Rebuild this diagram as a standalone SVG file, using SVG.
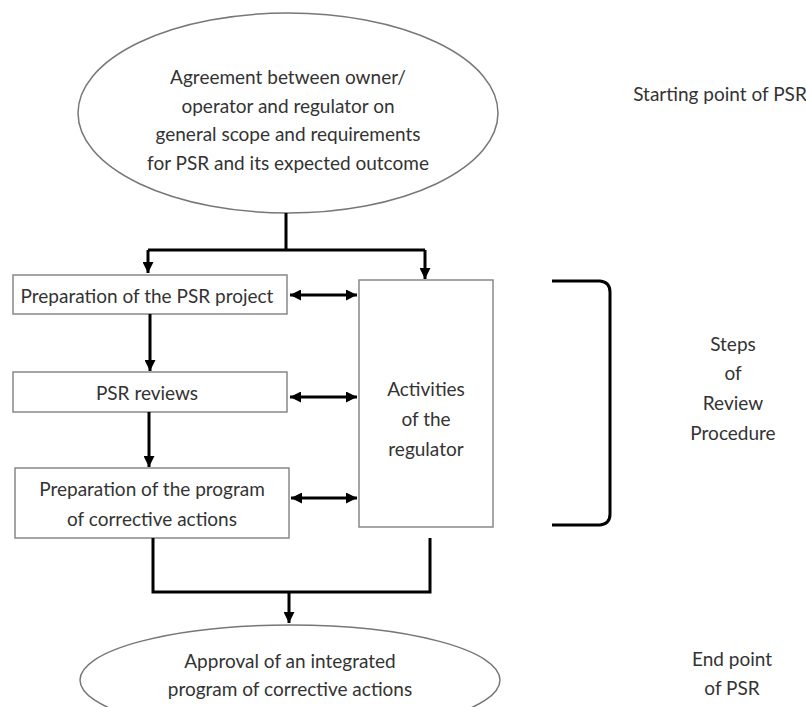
<svg xmlns="http://www.w3.org/2000/svg" width="806" height="707" viewBox="0 0 806 707">
<style>
text{font-family:Lato,"Liberation Sans",sans-serif;font-size:19px;fill:#333;text-anchor:middle;dominant-baseline:central}
.box{fill:#fff;stroke:#888;stroke-width:1.5}
.ell{fill:#fff;stroke:#777;stroke-width:1.5}
.c{fill:none;stroke:#000;stroke-width:3}
</style>
<defs>
<marker id="ah" viewBox="0 0 10 10" refX="10" refY="5" markerWidth="11" markerHeight="11" markerUnits="userSpaceOnUse" orient="auto-start-reverse">
<path d="M0,0 L10,5 L0,10 z" fill="#000"/>
</marker>
</defs>
<rect width="806" height="707" fill="#fff"/>
<g id="start">
<ellipse class="ell" cx="288" cy="113" rx="210" ry="100"/>
<text x="288" y="76">Agreement between owner/</text>
<text x="288" y="105">operator and regulator on</text>
<text x="288" y="133">general scope and requirements</text>
<text x="288" y="162">for PSR and its expected outcome</text>
</g>
<g id="prep">
<rect class="box" x="13" y="275" width="274" height="39"/>
<text x="147" y="295">Preparation of the PSR project</text>
</g>
<g id="reviews">
<rect class="box" x="13" y="372" width="274" height="40"/>
<text x="147" y="392">PSR reviews</text>
</g>
<g id="corrective">
<rect class="box" x="15" y="468" width="274" height="70"/>
<text x="152" y="488">Preparation of the program</text>
<text x="152" y="518">of corrective actions</text>
</g>
<g id="regulator">
<rect class="box" x="359" y="280" width="134" height="247"/>
<text x="426" y="388">Activities</text>
<text x="426" y="418">of the</text>
<text x="426" y="448">regulator</text>
</g>
<g id="end">
<ellipse class="ell" cx="290" cy="680" rx="210" ry="55"/>
<text x="290" y="660">Approval of an integrated</text>
<text x="290" y="688">program of corrective actions</text>
</g>
<g id="labels">
<text x="720" y="93">Starting point of PSR</text>
<text x="733" y="343">Steps</text>
<text x="733" y="372">of</text>
<text x="733" y="402">Review</text>
<text x="733" y="432">Procedure</text>
<text x="732" y="658">End point</text>
<text x="732" y="687">of PSR</text>
</g>
<g id="connectors">
<path class="c" d="M286,213 V250"/>
<path class="c" d="M148,250 H425"/>
<path class="c" d="M148,250 V273" marker-end="url(#ah)"/>
<path class="c" d="M425,250 V279" marker-end="url(#ah)"/>
<path class="c" d="M150,314 V371" marker-end="url(#ah)"/>
<path class="c" d="M149,412 V467" marker-end="url(#ah)"/>
<path class="c" d="M290,295 H357" marker-start="url(#ah)" marker-end="url(#ah)"/>
<path class="c" d="M290,397 H357" marker-start="url(#ah)" marker-end="url(#ah)"/>
<path class="c" d="M291,498 H357" marker-start="url(#ah)" marker-end="url(#ah)"/>
<path class="c" d="M153,538 V592 H430 V538"/>
<path class="c" d="M289,592 V623" marker-end="url(#ah)"/>
<path class="c" d="M552,281 H600 Q610,282 610,292 V514 Q610,524 600,525 H552"/>
</g>
</svg>
